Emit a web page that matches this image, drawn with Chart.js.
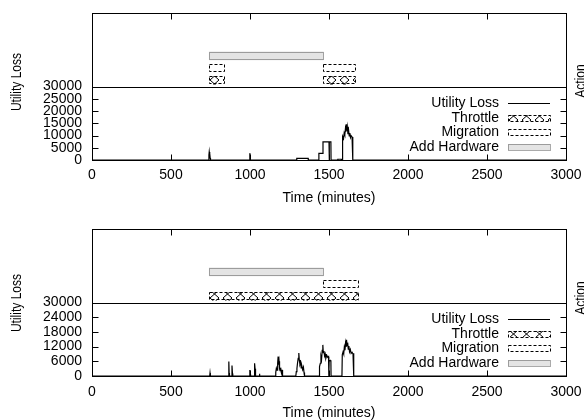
<!DOCTYPE html>
<html>
<head>
<meta charset="UTF-8">
<title>Utility Loss and Actions</title>
<script src="https://cdn.jsdelivr.net/npm/chart.js"></script>
<style>
  html, body { margin: 0; padding: 0; background: #fff; }
  .panel { width: 584px; height: 210px; }
</style>
</head>
<body>
<div class="panel"><canvas id="chartA" width="584" height="210"></canvas></div>
<div class="panel"><canvas id="chartB" width="584" height="210"></canvas></div>
<script>
  const FONT = "'Liberation Sans', Arial, sans-serif";

  // x axis ticks (minutes)
  const timeTicks = [0, 500, 1000, 1500, 2000, 2500, 3000];
  const lossTicksA = [0, 5000, 10000, 15000, 20000, 25000, 30000];
  const lossTicksB = [0, 6000, 12000, 18000, 24000, 30000];

  // action rows (level on the upper axis)
  const actionNames = ['Throttle', 'Migration', 'Add Hardware'];
  const actionLevels = [0.5, 1.5, 2.5];

  // top panel: utility loss
  const lossTimeA = [0, 738, 740, 742, 744, 746, 748, 750,
    997, 999, 1001,
    1295, 1296, 1368, 1369,
    1435, 1436, 1461, 1462, 1500, 1501, 1503, 1512, 1513,
    1555, 1556, 1578, 1579,
    1583, 1584, 1588, 1592, 1596, 1600, 1604, 1607, 1610, 1613, 1616, 1620, 1624, 1628, 1632, 1636, 1640, 1646, 1650, 1651,
    3000];
  const lossValA = [0, 0, 2000, 3300, 1600, 2600, 800, 0,
    0, 2800, 0,
    0, 700, 700, 0,
    0, 2700, 2700, 7400, 7400, 0, 7400, 7400, 0,
    0, 300, 300, 0,
    0, 8800, 9600, 8700, 11000, 10200, 12800, 11500, 14600, 12000, 13500, 10500, 12200, 9800, 11000, 9200, 9900, 9400, 9400, 0,
    0];

  // top panel: actions, [start, end] in minutes
  const throttleA = [[742, 837], [1464, 1665]];
  const migrationA = [[742, 837], [1464, 1665]];
  const hardwareA = [[742, 1464]];

  // bottom panel: utility loss
  const lossTimeB = [0, 745, 747, 749,
    864, 866, 868, 870, 884, 886, 889, 891,
    997, 999, 1001, 1004, 1027, 1029, 1032, 1034, 1036, 1058, 1060, 1062,
    1160, 1163, 1167, 1171, 1175, 1178, 1181, 1184, 1187, 1190, 1194, 1198, 1201, 1204, 1206,
    1290, 1293, 1297, 1301, 1305, 1309, 1312, 1316, 1320, 1324, 1328, 1333, 1338, 1342, 1345,
    1438, 1440, 1445, 1449, 1453, 1457, 1461, 1464, 1468, 1472, 1476, 1480, 1486, 1492, 1497, 1499, 1501, 1508, 1512, 1513,
    1582, 1584, 1589, 1593, 1597, 1601, 1605, 1608, 1611, 1614, 1618, 1622, 1626, 1630, 1635, 1640, 1646, 1652, 1656, 1657,
    3000];
  const lossValB = [0, 0, 1200, 0,
    0, 5900, 1200, 0, 0, 4300, 1000, 0,
    0, 2400, 600, 0, 0, 5200, 3000, 1500, 0, 0, 900, 0,
    0, 1500, 3200, 2400, 5200, 7900, 4600, 6000, 3000, 2200, 3400, 1500, 800, 2500, 0,
    0, 1800, 3000, 5400, 7200, 9400, 6500, 4800, 5600, 3300, 4100, 2600, 3600, 1400, 0,
    0, 3800, 5200, 8000, 6800, 10500, 12700, 9500, 10200, 8200, 9000, 7200, 8400, 7600, 7900, 0, 6000, 6400, 6000, 0,
    0, 8600, 9800, 9000, 11800, 10500, 13500, 12200, 14800, 12500, 13600, 11000, 12200, 9900, 10800, 9200, 9700, 9000, 9300, 0,
    0];

  // bottom panel: actions
  const throttleB = [[742, 1686]];
  const migrationB = [[1464, 1686]];
  const hardwareB = [[742, 1464]];

  function makeHatch() {
    const c = document.createElement('canvas');
    c.width = 13; c.height = 8;
    const g = c.getContext('2d');
    g.fillStyle = '#fff';
    g.fillRect(0, 0, 13, 8);
    g.strokeStyle = '#000';
    g.lineWidth = 1;
    g.beginPath();
    g.moveTo(2, 0); g.lineTo(11, 8);
    g.moveTo(11, 0); g.lineTo(2, 8);
    g.stroke();
    return g.createPattern(c, 'repeat');
  }
  const hatch = makeHatch();

  function barSet(i, spans, fill, edge, dash) {
    return {
      type: 'bar', label: actionNames[i], indexAxis: 'y',
      xAxisID: 'x', yAxisID: 'yA', grouped: false,
      barThickness: 8, maxBarThickness: 8,
      backgroundColor: fill, borderWidth: 0, edge: edge, dash: dash,
      data: spans.map(s => ({ x: s, y: actionLevels[i] }))
    };
  }

  function noPad(s) {
    s.paddingTop = 0; s.paddingBottom = 0; s.paddingLeft = 0; s.paddingRight = 0;
  }

  const framePlugin = {
    id: 'frame',
    afterDatasetsDraw(chart) {
      const ctx = chart.ctx;
      chart.data.datasets.forEach((ds, i) => {
        if (!ds.dash) return;
        chart.getDatasetMeta(i).data.forEach(el => {
          const p = el.getProps(['x', 'y', 'base', 'height'], true);
          ctx.save();
          ctx.setLineDash(ds.dash);
          ctx.strokeStyle = ds.edge;
          ctx.lineWidth = 1;
          ctx.strokeRect(Math.round(p.base) + 0.5, Math.round(p.y - p.height / 2) + 0.5,
            Math.round(p.x - p.base), Math.round(p.height) - 1);
          ctx.restore();
        });
      });
    },
    afterDraw(chart, args, opts) {
      const { ctx, chartArea: a, scales } = chart;
      const L = Math.round(a.left) + 0.5, R = Math.round(a.right) + 0.5;
      const T = Math.round(a.top) + 0.5, B = Math.round(a.bottom) + 0.5;
      const mid = Math.round(scales.y.top) + 0.5;
      ctx.save();
      ctx.strokeStyle = '#000';
      ctx.lineWidth = 1;
      ctx.strokeRect(L, T, R - L, B - T);
      ctx.beginPath();
      ctx.moveTo(L, mid); ctx.lineTo(R, mid);
      scales.x.ticks.forEach(t => {
        const px = Math.round(scales.x.getPixelForValue(t.value)) + 0.5;
        ctx.moveTo(px, B); ctx.lineTo(px, B - 6);
        ctx.moveTo(px, T); ctx.lineTo(px, T + 6);
      });
      scales.y.ticks.forEach(t => {
        const py = Math.round(scales.y.getPixelForValue(t.value)) + 0.5;
        ctx.moveTo(L, py); ctx.lineTo(L + 6, py);
        ctx.moveTo(R, py); ctx.lineTo(R - 6, py);
      });
      ctx.stroke();

      // legend inside lower part
      ctx.font = '14px ' + FONT;
      ctx.fillStyle = '#000';
      ctx.textAlign = 'right';
      ctx.textBaseline = 'middle';
      const x0 = Math.round(a.right) - 58, x1 = Math.round(a.right) - 16;
      chart.data.datasets.forEach((ds, i) => {
        const ry = Math.round(scales.y.top + 16.5 + i * 14.7);
        ctx.fillText(ds.label, a.right - 67, ry);
        if (!ds.dash) {
          ctx.beginPath();
          ctx.moveTo(x0, ry + 0.5); ctx.lineTo(x1, ry + 0.5);
          ctx.stroke();
        } else {
          ctx.fillStyle = ds.backgroundColor;
          ctx.fillRect(x0, ry - 3, x1 - x0, 6);
          ctx.save();
          ctx.setLineDash(ds.dash);
          ctx.strokeStyle = ds.edge;
          ctx.strokeRect(x0 + 0.5, ry - 2.5, x1 - x0, 6);
          ctx.restore();
          ctx.fillStyle = '#000';
        }
      });

      // axis titles
      ctx.font = '14px ' + FONT;
      ctx.textAlign = 'center';
      ctx.textBaseline = 'alphabetic';
      ctx.save();
      ctx.translate(20.5, opts.leftTitleY);
      ctx.rotate(-Math.PI / 2);
      ctx.scale(0.86, 1);
      ctx.fillText('Utility Loss', 0, 0);
      ctx.restore();
      ctx.save();
      ctx.translate(584.5, opts.rightTitleY);
      ctx.rotate(-Math.PI / 2);
      ctx.scale(0.86, 1);
      ctx.fillText('Action', 0, 0);
      ctx.restore();
      ctx.restore();
    }
  };

  function makeChart(id, p) {
    const tickFont = { family: FONT, size: 14 };
    return new Chart(document.getElementById(id), {
      type: 'line',
      data: {
        datasets: [
          {
            type: 'line', label: 'Utility Loss', yAxisID: 'y', xAxisID: 'x',
            data: p.time.map((t, i) => ({ x: t, y: p.loss[i] })),
            borderColor: '#000', borderWidth: 1.2, pointRadius: 0, tension: 0, fill: false
          },
          barSet(0, p.throttle, hatch, '#000', [3, 2]),
          barSet(1, p.migration, '#fff', '#000', [3, 2]),
          barSet(2, p.hardware, '#e4e4e4', '#555', [1, 1])
        ]
      },
      options: {
        responsive: false,
        animation: false,
        events: [],
        layout: { padding: { top: p.top, right: 18, left: 0, bottom: 0 } },
        plugins: {
          legend: { display: false },
          tooltip: { enabled: false },
          frame: { leftTitleY: p.leftTitleY, rightTitleY: p.rightTitleY }
        },
        scales: {
          x: {
            type: 'linear', min: 0, max: 3000, offset: false,
            grid: { display: false, drawTicks: false },
            border: { display: false },
            afterBuildTicks: s => { s.ticks = timeTicks.map(v => ({ value: v })); },
            ticks: { autoSkip: false, maxRotation: 0, padding: p.tickPad, color: '#000', font: tickFont, callback: v => String(v) },
            title: { display: true, text: 'Time (minutes)', color: '#000', font: tickFont, padding: { top: 0, bottom: p.titlePad } },
            afterFit: s => { s.height = p.xh; noPad(s); }
          },
          y: {
            type: 'linear', position: 'left', stack: 'panel', stackWeight: 1,
            min: 0, max: 30000, offset: false,
            grid: { display: false, drawTicks: false },
            border: { display: false },
            afterBuildTicks: s => { s.ticks = p.lossTicks.map(v => ({ value: v })); },
            ticks: { autoSkip: false, padding: 10, color: '#000', font: tickFont, callback: v => String(v) },
            afterFit: s => { s.width = 92; noPad(s); }
          },
          yA: {
            type: 'linear', position: 'left', stack: 'panel', stackWeight: 1,
            min: 0, max: 6, offset: false,
            grid: { display: false, drawTicks: false },
            border: { display: false },
            ticks: { display: false },
            afterBuildTicks: s => { s.ticks = [{ value: 0 }, { value: 6 }]; },
            afterFit: s => { s.width = 92; noPad(s); }
          }
        }
      },
      plugins: [framePlugin]
    });
  }

  makeChart('chartA', {
    time: lossTimeA, loss: lossValA, lossTicks: lossTicksA,
    throttle: throttleA, migration: migrationA, hardware: hardwareA,
    top: 13, xh: 50, tickPad: 7, titlePad: 3, leftTitleY: 82, rightTitleY: 81
  });
  makeChart('chartB', {
    time: lossTimeB, loss: lossValB, lossTicks: lossTicksB,
    throttle: throttleB, migration: migrationB, hardware: hardwareB,
    top: 19, xh: 44, tickPad: 8, titlePad: -2, leftTitleY: 93, rightTitleY: 88
  });
</script>
</body>
</html>
